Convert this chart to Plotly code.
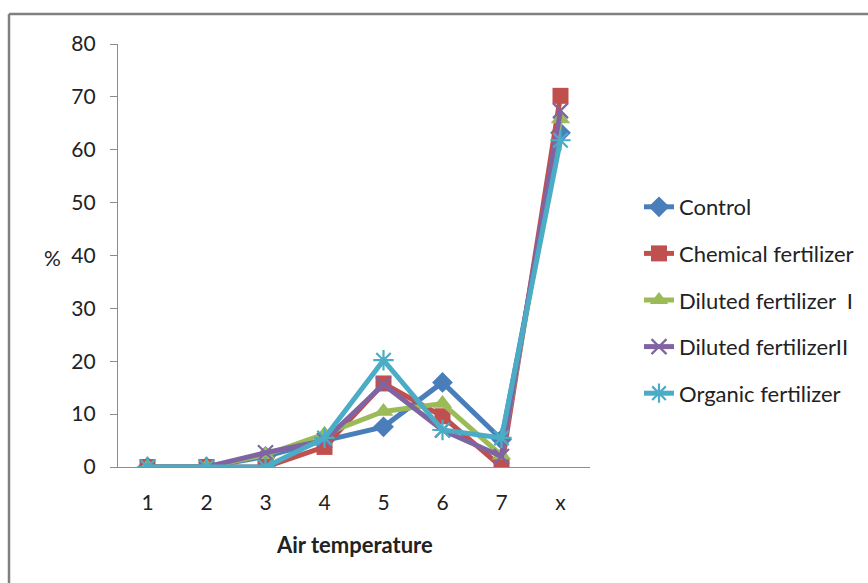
import plotly.graph_objects as go

categories = ["1", "2", "3", "4", "5", "6", "7", "x"]
control = [0, 0, 2, 5, 7.6, 16, 5.2, 63.2]
chemical = [0, 0, 0, 3.8, 15.8, 9.6, 0, 70.2]
diluted_1 = [0, 0, 2.3, 6.2, 10.5, 12.0, 2.2, 65.8]
diluted_2 = [0, 0, 2.7, 5.0, 15.6, 7.0, 2.0, 67.4]
organic = [0, 0, 0, 5.5, 20.2, 7.0, 5.5, 61.8]
y_ticks = [0, 10, 20, 30, 40, 50, 60, 70, 80]

series = [
    ("Control", control, "#4A7EBB", "diamond", 16),
    ("Chemical fertilizer", chemical, "#C0504D", "square", 16),
    ("Diluted fertilizer  I", diluted_1, "#9BBB59", "triangle-up", 17),
    ("Diluted fertilizerII", diluted_2, "#8064A2", "x-thin-open", 15),
    ("Organic fertilizer", organic, "#4BACC6", "asterisk-open", 17),
]

font_family = "Lato, 'Open Sans', sans-serif"

fig = go.Figure()
for i, (name, vals, color, symbol, size) in enumerate(series):
    open_sym = symbol.endswith("open")
    fig.add_trace(go.Scatter(
        x=categories, y=vals, name=name, mode="lines+markers",
        legendgroup=f"g{i}",
        line=dict(color=color, width=5),
        marker=dict(
            symbol=symbol, size=size, color=color,
            line=dict(color=color, width=2.2 if open_sym else 0),
        ),
    ))

W, H = 868, 583
fig.update_layout(
    template="none",
    width=W, height=H,
    margin=dict(l=0, r=0, t=0, b=0, autoexpand=False),
    paper_bgcolor="white", plot_bgcolor="white",
    font=dict(family=font_family, size=22, color="#222"),
    xaxis=dict(
        domain=[118 / W, 590 / W], type="category", range=[-0.5, 7.5],
        showline=True, linecolor="#8c8c8c", linewidth=1.2,
        showgrid=False, zeroline=False, ticks="", automargin=False,
        tickfont=dict(size=21), ticklabelstandoff=17,
    ),
    yaxis=dict(
        domain=[(H - 467) / H, (H - 44) / H], range=[0, 80],
        tickvals=y_ticks, showline=True, linecolor="#8c8c8c", linewidth=1.2,
        ticks="outside", ticklen=7, tickcolor="#8c8c8c", automargin=False,
        showgrid=False, zeroline=False, tickfont=dict(size=21),
        ticklabelstandoff=10,
    ),
    legend=dict(
        x=639 / W, y=(H - 186) / H, xanchor="left", yanchor="top",
        font=dict(size=22, family=font_family), tracegroupgap=15,
        bgcolor="rgba(0,0,0,0)",
    ),
    showlegend=True,
    annotations=[
        dict(text="%", x=52 / W, y=(H - 257) / H, xref="paper", yref="paper",
             xanchor="center", yanchor="middle",
             showarrow=False, font=dict(size=21)),
        dict(text="<b>Air temperature</b>", x=354 / W, y=(H - 544) / H,
             xref="paper", yref="paper", xanchor="center", yanchor="middle",
             showarrow=False, font=dict(size=22)),
    ],
    shapes=[
        dict(type="line", xref="paper", yref="paper", x0=9 / W, x1=1.01,
             y0=(H - 14) / H, y1=(H - 14) / H, line=dict(color="#808080", width=2.5)),
        dict(type="line", xref="paper", yref="paper", x0=9 / W, x1=9 / W,
             y0=-0.01, y1=(H - 14) / H, line=dict(color="#808080", width=2.5)),
    ],
)

fig.write_html("out.html")
